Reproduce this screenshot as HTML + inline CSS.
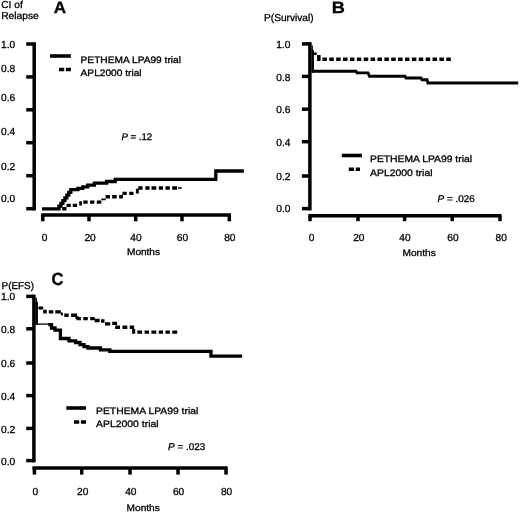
<!DOCTYPE html>
<html><head><meta charset="utf-8"><title>Figure</title>
<style>
html,body{margin:0;padding:0;background:#fff;}
svg{display:block;}
text{font-family:"Liberation Sans",Arial,Helvetica,sans-serif;font-size:10px;fill:#000;stroke:#000;stroke-width:0.3px;text-rendering:geometricPrecision;}
line,polyline{stroke:#000;}
</style></head>
<body>
<svg width="520" height="514" viewBox="0 0 520 514">
<rect width="520" height="514" fill="#fff"/>
<g id="chartA">
<line x1="34.2" y1="42.25" x2="34.2" y2="210.45" stroke-width="3.5"/>
<line x1="26.2" y1="44.0" x2="34" y2="44.0" stroke-width="3.5"/>
<text x="1.1" y="47.7" style="font-size:10.2px">1.0</text>
<line x1="26.2" y1="76.9" x2="34" y2="76.9" stroke-width="3.5"/>
<text x="1.1" y="72" style="font-size:10.2px">0.8</text>
<line x1="26.2" y1="109.8" x2="34" y2="109.8" stroke-width="3.5"/>
<text x="1.1" y="100.8" style="font-size:10.2px">0.6</text>
<line x1="26.2" y1="142.7" x2="34" y2="142.7" stroke-width="3.5"/>
<text x="1.1" y="135" style="font-size:10.2px">0.4</text>
<line x1="26.2" y1="175.7" x2="34" y2="175.7" stroke-width="3.5"/>
<text x="1.1" y="169.6" style="font-size:10.2px">0.2</text>
<line x1="26.2" y1="208.7" x2="34" y2="208.7" stroke-width="3.5"/>
<text x="1.1" y="202.1" style="font-size:10.2px">0.0</text>
<line x1="41.2" y1="215.1" x2="231" y2="215.1" stroke-width="3.5"/>
<line x1="42.8" y1="215.1" x2="42.8" y2="221.3" stroke-width="3.5"/>
<text x="44.6" y="240.7" text-anchor="middle" style="font-size:10.2px">0</text>
<line x1="89" y1="215.1" x2="89" y2="221.3" stroke-width="3.5"/>
<text x="90.1" y="240.7" text-anchor="middle" style="font-size:10.2px">20</text>
<line x1="135.7" y1="215.1" x2="135.7" y2="221.3" stroke-width="3.5"/>
<text x="136" y="240.7" text-anchor="middle" style="font-size:10.2px">40</text>
<line x1="182" y1="215.1" x2="182" y2="221.3" stroke-width="3.5"/>
<text x="182.4" y="240.7" text-anchor="middle" style="font-size:10.2px">60</text>
<line x1="229.3" y1="215.1" x2="229.3" y2="221.3" stroke-width="3.5"/>
<text x="229.8" y="240.7" text-anchor="middle" style="font-size:10.2px">80</text>
<text x="1.2" y="7.6" textLength="21.6" lengthAdjust="spacingAndGlyphs">CI of</text>
<text x="1.2" y="19.3" textLength="37.6" lengthAdjust="spacingAndGlyphs">Relapse</text>
<text x="53.8" y="12.7" textLength="12.3" lengthAdjust="spacingAndGlyphs" style="font-size:16.5px;font-weight:bold">A</text>
<text x="127" y="255.2" textLength="33" lengthAdjust="spacingAndGlyphs" style="font-size:9.5px">Months</text>
<line x1="50" y1="56" x2="70.9" y2="56" stroke-width="3.6"/>
<line x1="59" y1="69.5" x2="70.9" y2="69.5" stroke-width="3.6" stroke-dasharray="5.2 1.7"/>
<text x="80.6" y="63.3" textLength="100.4" lengthAdjust="spacingAndGlyphs" style="font-size:9.3px">PETHEMA LPA99 trial</text>
<text x="80.6" y="75.6" textLength="61" lengthAdjust="spacingAndGlyphs" style="font-size:9.3px">APL2000 trial</text>
<text x="121.5" y="139.6" textLength="30.7" lengthAdjust="spacingAndGlyphs" style="font-size:9.6px"><tspan font-style="italic">P</tspan> = .12</text>
<polyline points="42,208.9 57,208.9 58.97,208.9 58.97,206.16 60.94,206.16 60.94,203.41 62.91,203.41 62.91,200.67 64.89,200.67 64.89,197.93 66.86,197.93 66.86,195.19 68.83,195.19 68.83,192.44 70.8,192.44 70.8,189.7 78,189.7 78,188.3 82.8,188.3 82.8,186.8 87.7,186.8 87.7,185.2 94.4,185.2 94.4,183.2 106.6,183.2 106.6,181.5 115.2,181.5 115.2,179.4 215.8,179.4 215.8,171 243.8,171" stroke-width="3.3" fill="none"/>
<path d="M62.2 207H66.5V210.4H62.2ZM66.5 203.65H70.8V207H66.5ZM72.75 203.65H77.1V207H72.75ZM79.2 201.25H81.9V205.6H79.2ZM83.3 200.6H87.65V203.7H83.3ZM90.05 200.6H94.4V203.7H90.05ZM96.8 200.6H101.3V203.7H96.8ZM101.3 198.6H105.6V200.2H101.3ZM105.6 195.1H110V198.4H105.6ZM112.15 195.1H116.7V198.4H112.15ZM119.1 195.1H122.9V198.4H119.1ZM122.4 191.7H126.8V195.1H122.4ZM129.2 191.7H133.5V195.1H129.2ZM135.9 188.8H138.8V193.6H135.9ZM138.3 186.3H142.6V189.8H138.3ZM145.3 186.3H149.6V189.8H145.3ZM151.5 186.3H156.3V189.8H151.5ZM158.75 186.3H163.1V189.8H158.75ZM165.5 186.3H169.8V189.8H165.5ZM172.2 186.3H177V189.8H172.2ZM178 187.2H181.8V188.8H178Z" fill="#000" stroke="none"/>
</g>
<g id="chartB">
<line x1="309.9" y1="42.15" x2="309.9" y2="210.35" stroke-width="3.5"/>
<line x1="301.9" y1="43.9" x2="310" y2="43.9" stroke-width="3.5"/>
<text x="276.3" y="48" style="font-size:10.2px">1.0</text>
<line x1="301.9" y1="76.4" x2="310" y2="76.4" stroke-width="3.5"/>
<text x="276.3" y="80.7" style="font-size:10.2px">0.8</text>
<line x1="301.9" y1="109.2" x2="310" y2="109.2" stroke-width="3.5"/>
<text x="276.3" y="113.2" style="font-size:10.2px">0.6</text>
<line x1="301.9" y1="141.7" x2="310" y2="141.7" stroke-width="3.5"/>
<text x="276.3" y="145.7" style="font-size:10.2px">0.4</text>
<line x1="301.9" y1="176" x2="310" y2="176" stroke-width="3.5"/>
<text x="276.3" y="179.7" style="font-size:10.2px">0.2</text>
<line x1="301.9" y1="208.6" x2="310" y2="208.6" stroke-width="3.5"/>
<text x="276.3" y="211.8" style="font-size:10.2px">0.0</text>
<line x1="308.3" y1="215.8" x2="501.6" y2="215.8" stroke-width="3.5"/>
<line x1="310" y1="215.8" x2="310" y2="221.2" stroke-width="3.5"/>
<text x="311.5" y="240.6" text-anchor="middle" style="font-size:10.2px">0</text>
<line x1="358" y1="215.8" x2="358" y2="221.2" stroke-width="3.5"/>
<text x="358.8" y="240.6" text-anchor="middle" style="font-size:10.2px">20</text>
<line x1="404.6" y1="215.8" x2="404.6" y2="221.2" stroke-width="3.5"/>
<text x="405" y="240.6" text-anchor="middle" style="font-size:10.2px">40</text>
<line x1="452.2" y1="215.8" x2="452.2" y2="221.2" stroke-width="3.5"/>
<text x="453" y="240.6" text-anchor="middle" style="font-size:10.2px">60</text>
<line x1="500" y1="215.8" x2="500" y2="221.2" stroke-width="3.5"/>
<text x="501.2" y="240.6" text-anchor="middle" style="font-size:10.2px">80</text>
<text x="264" y="20.7" textLength="49.6" lengthAdjust="spacingAndGlyphs">P(Survival)</text>
<text x="331.8" y="13.1" textLength="13.1" lengthAdjust="spacingAndGlyphs" style="font-size:16.5px;font-weight:bold">B</text>
<text x="402.5" y="255.8" textLength="33.2" lengthAdjust="spacingAndGlyphs" style="font-size:9.5px">Months</text>
<line x1="341.8" y1="155.5" x2="362" y2="155.5" stroke-width="3.6"/>
<line x1="348.8" y1="169.3" x2="360" y2="169.3" stroke-width="3.6" stroke-dasharray="5.2 1.7"/>
<text x="370" y="161.8" textLength="102" lengthAdjust="spacingAndGlyphs" style="font-size:9.3px">PETHEMA LPA99 trial</text>
<text x="370" y="175.5" textLength="62.5" lengthAdjust="spacingAndGlyphs" style="font-size:9.3px">APL2000 trial</text>
<text x="437.5" y="201.8" textLength="37.3" lengthAdjust="spacingAndGlyphs" style="font-size:9.8px"><tspan font-style="italic">P</tspan> = .026</text>
<line x1="312.2" y1="45.6" x2="312.2" y2="52" stroke-width="1.3"/>
<line x1="312.7" y1="50.5" x2="312.7" y2="72.7" stroke-width="2.5"/>
<polyline points="312,71.3 356,71.3 357,72.9 368,72.9 369.5,76.3 405,76.3 406,78 421,78 422,79.8 427,79.8 428,83 518.2,83" stroke-width="2.9" fill="none"/>
<path d="M311.7 49.7H313.6V51.6H311.7ZM312.8 52.4H316.7V55.1H312.8ZM317.1 55.1H320.6V61H317.1ZM322.4 57.5H326.9V61H322.4ZM329.28 57.5H333.78V61H329.28ZM336.17 57.5H340.67V61H336.17ZM343.05 57.5H347.55V61H343.05ZM349.93 57.5H354.43V61H349.93ZM356.81 57.5H361.31V61H356.81ZM363.7 57.5H368.2V61H363.7ZM370.58 57.5H375.08V61H370.58ZM377.46 57.5H381.96V61H377.46ZM384.35 57.5H388.85V61H384.35ZM391.23 57.5H395.73V61H391.23ZM398.11 57.5H402.61V61H398.11ZM405.0 57.5H409.5V61H405.0ZM411.88 57.5H416.38V61H411.88ZM418.76 57.5H423.26V61H418.76ZM425.64 57.5H430.14V61H425.64ZM432.53 57.5H437.03V61H432.53ZM439.41 57.5H443.91V61H439.41ZM446.29 57.5H450.79V61H446.29Z" fill="#000" stroke="none"/>
</g>
<g id="chartC">
<line x1="33.9" y1="294.65" x2="33.9" y2="462.35" stroke-width="3.5"/>
<line x1="26.2" y1="296.4" x2="34" y2="296.4" stroke-width="3.5"/>
<text x="1.1" y="300.4" style="font-size:10.2px">1.0</text>
<line x1="26.2" y1="328.8" x2="34" y2="328.8" stroke-width="3.5"/>
<text x="1.1" y="332.9" style="font-size:10.2px">0.8</text>
<line x1="26.2" y1="363" x2="34" y2="363" stroke-width="3.5"/>
<text x="1.1" y="367.2" style="font-size:10.2px">0.6</text>
<line x1="26.2" y1="395.6" x2="34" y2="395.6" stroke-width="3.5"/>
<text x="1.1" y="400.2" style="font-size:10.2px">0.4</text>
<line x1="26.2" y1="428.4" x2="34" y2="428.4" stroke-width="3.5"/>
<text x="1.1" y="432.8" style="font-size:10.2px">0.2</text>
<line x1="26.2" y1="460.6" x2="34" y2="460.6" stroke-width="3.5"/>
<text x="1.1" y="465.3" style="font-size:10.2px">0.0</text>
<line x1="32.4" y1="468" x2="227.6" y2="468" stroke-width="3.5"/>
<line x1="34.4" y1="468" x2="34.4" y2="474.6" stroke-width="3.5"/>
<text x="35.4" y="494.8" text-anchor="middle" style="font-size:10.2px">0</text>
<line x1="81.7" y1="468" x2="81.7" y2="474.6" stroke-width="3.5"/>
<text x="82.7" y="494.8" text-anchor="middle" style="font-size:10.2px">20</text>
<line x1="130" y1="468" x2="130" y2="474.6" stroke-width="3.5"/>
<text x="130.8" y="494.8" text-anchor="middle" style="font-size:10.2px">40</text>
<line x1="178" y1="468" x2="178" y2="474.6" stroke-width="3.5"/>
<text x="178.6" y="494.8" text-anchor="middle" style="font-size:10.2px">60</text>
<line x1="226" y1="468" x2="226" y2="474.6" stroke-width="3.5"/>
<text x="226.6" y="494.8" text-anchor="middle" style="font-size:10.2px">80</text>
<text x="1.6" y="288.8" textLength="32.4" lengthAdjust="spacingAndGlyphs">P(EFS)</text>
<text x="51.5" y="284.6" textLength="12.0" lengthAdjust="spacingAndGlyphs" style="font-size:17.6px;font-weight:bold">C</text>
<text x="126.6" y="510.5" textLength="33.2" lengthAdjust="spacingAndGlyphs" style="font-size:9.5px">Months</text>
<line x1="66.3" y1="408" x2="86" y2="408" stroke-width="3.6"/>
<line x1="74" y1="422" x2="86" y2="422" stroke-width="3.6" stroke-dasharray="5.2 1.7"/>
<text x="96" y="413.8" textLength="102.3" lengthAdjust="spacingAndGlyphs" style="font-size:9.3px">PETHEMA LPA99 trial</text>
<text x="96" y="427" textLength="62.6" lengthAdjust="spacingAndGlyphs" style="font-size:9.3px">APL2000 trial</text>
<text x="168" y="449.8" textLength="37.3" lengthAdjust="spacingAndGlyphs" style="font-size:9.8px"><tspan font-style="italic">P</tspan> = .023</text>
<line x1="36.3" y1="297.8" x2="36.3" y2="302.5" stroke-width="1.3"/>
<line x1="36.6" y1="301.8" x2="36.6" y2="324.7" stroke-width="2.6"/>
<line x1="36" y1="324.1" x2="49" y2="324.1" stroke-width="1.3"/>
<polyline points="48.3,324.6 51.5,324.6 51.5,328 55,328 55,330.2 60.4,330.2 60.4,338.5 69,338.5 69,340.8 75.5,340.8 75.5,342.5 80,342.5 80,344.7 84,344.7 84,346.6 88,346.6 88,348 100.5,348 100.5,349.8 109.8,349.8 109.8,351.3 211,351.3 211,356.1 242.1,356.1" stroke-width="3.3" fill="none"/>
<path d="M35.7 302.45H38V305.2H35.7ZM38.4 306.5H43.2V309.5H38.4ZM43.2 309.7H46.7V313.5H43.2ZM48.8 310.3H53.3V313.5H48.8ZM55.3 310.3H60.9V313.5H55.3ZM60.9 312.6H62.9V315.6H60.9ZM64.3 313.6H68.7V317H64.3ZM71.1 313.6H77V317H71.1ZM75.5 316H78.4V319H75.5ZM76.5 317H80.9V320.3H76.5ZM83.3 317H87.8V320.3H83.3ZM90.2 317H94.7V320.3H90.2ZM94.7 318.75H99.6V322.2H94.7ZM101 319.2H104.5V322.65H101ZM105 322.2H110.3V325.6H105ZM112.2 321.7H117.1V325.1H112.2ZM115.2 325.6H120V329H115.2ZM122.5 325.6H127.3V329H122.5ZM129.7 325.6H134.1V329H129.7ZM132.1 329H135.2V333.8H132.1ZM137.3 330.4H142.2V333.8H137.3ZM144.6 330.4H149V333.8H144.6ZM151.4 330.4H156.3V333.8H151.4ZM158.7 330.4H163.1V333.8H158.7ZM165.5 330.4H169.9V333.8H165.5ZM172.3 330.4H177.2V333.8H172.3Z" fill="#000" stroke="none"/>
</g>
</svg>
</body></html>
